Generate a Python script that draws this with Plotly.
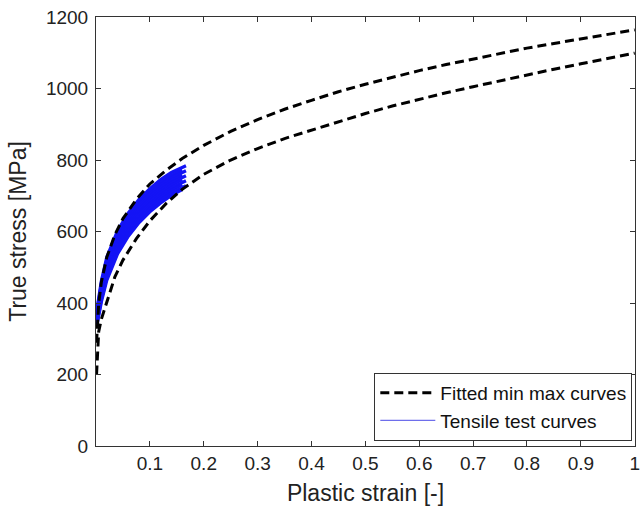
import plotly.graph_objects as go

# Fitted min/max curves
x_fit = [0.001, 0.005, 0.01, 0.02, 0.035, 0.05, 0.075, 0.1, 0.13, 0.16, 0.2, 0.25,
         0.3, 0.35, 0.4, 0.45, 0.5, 0.55, 0.6, 0.65, 0.7, 0.75, 0.8, 0.85, 0.9, 0.95, 1.0]
y_max = [289, 399, 459, 528, 591, 636, 690, 733, 771, 804, 841, 880,
         913, 942, 967, 991, 1012, 1032, 1050, 1067, 1083, 1099, 1113, 1126, 1139, 1152, 1164]
y_min = [200, 320, 355, 405, 473, 520, 580, 630, 678, 718, 760, 800,
         832, 860, 884, 907, 930, 951, 970, 988, 1005, 1022, 1038, 1054, 1069, 1084, 1099]

# Tensile test curves
x_test = [0.002, 0.01, 0.02, 0.04, 0.06, 0.08, 0.10, 0.12, 0.14, 0.16, 0.167]
test_curves = [
    [385, 462, 528, 602, 652, 690, 720, 745, 765, 780, 784],
    [380, 455, 520, 594, 644, 682, 712, 737, 757, 772],
    [375, 450, 513, 587, 637, 675, 705, 730, 750, 766, 770],
    [370, 443, 506, 580, 630, 668, 698, 722, 743, 758],
    [365, 437, 499, 573, 623, 661, 691, 715, 736, 752, 756],
    [360, 430, 492, 566, 616, 654, 684, 708, 729, 745],
    [355, 424, 485, 559, 609, 647, 677, 701, 722, 738, 742],
    [350, 417, 478, 552, 602, 640, 670, 694, 715, 731],
    [345, 410, 471, 545, 595, 633, 663, 687, 708, 724, 728],
    [340, 403, 463, 537, 587, 625, 655, 680, 701, 717],
]

x_ticks = [0.1, 0.2, 0.3, 0.4, 0.5, 0.6, 0.7, 0.8, 0.9, 1.0]
x_tick_text = ["0.1", "0.2", "0.3", "0.4", "0.5", "0.6", "0.7", "0.8", "0.9", "1"]
y_ticks = [0, 200, 400, 600, 800, 1000, 1200]
y_tick_text = ["0", "200", "400", "600", "800", "1000", "1200"]

FONT = "Liberation Sans, Arial, sans-serif"
BLUE = "rgb(20,20,245)"

fig = go.Figure()

for ys in test_curves:
    fig.add_trace(go.Scatter(x=x_test[:len(ys)], y=ys, mode="lines",
                             line=dict(color=BLUE, width=3.2), showlegend=False,
                             hoverinfo="skip"))

fig.add_trace(go.Scatter(x=x_fit, y=y_max, mode="lines", name="Fitted min max curves",
                         line=dict(color="black", width=3, dash="9px,5px"),
                         legendrank=1))
fig.add_trace(go.Scatter(x=x_fit, y=y_min, mode="lines", showlegend=False,
                         line=dict(color="black", width=3, dash="9px,5px")))

# legend-only entry for the tensile curves
fig.add_trace(go.Scatter(x=[None], y=[None], mode="lines", name="Tensile test curves",
                         line=dict(color="rgb(110,110,235)", width=1.2), legendrank=2))

axis_common = dict(
    showline=True, linecolor="#333", linewidth=1, mirror="ticks",
    ticks="inside", ticklen=5, tickcolor="#333", tickwidth=1,
    showgrid=False, zeroline=False,
    tickfont=dict(family=FONT, size=19, color="#222"),
    ticklabeloverflow="allow",
    automargin=False,
)

fig.update_layout(
    width=640, height=513,
    margin=dict(l=96, r=5, t=17, b=67),
    paper_bgcolor="white", plot_bgcolor="white",
    font=dict(family=FONT, color="#222"),
    xaxis=dict(range=[0, 1.0005], tickvals=x_ticks, ticktext=x_tick_text,
               title=dict(text="Plastic strain [-]", font=dict(family=FONT, size=23, color="#222"),
                          standoff=12),
               **axis_common),
    yaxis=dict(range=[0, 1200], tickvals=y_ticks, ticktext=y_tick_text,
               ticklabelstandoff=3,
               title=dict(text="True stress [MPa]", font=dict(family=FONT, size=23, color="#222"),
                          standoff=12),
               **axis_common),
    legend=dict(x=0.995, y=0.012, xanchor="right", yanchor="bottom",
                bgcolor="white", bordercolor="#333", borderwidth=1,
                font=dict(family=FONT, size=19, color="#111"),
                tracegroupgap=0, itemwidth=55),
    showlegend=True,
)

fig.write_html("out.html")
